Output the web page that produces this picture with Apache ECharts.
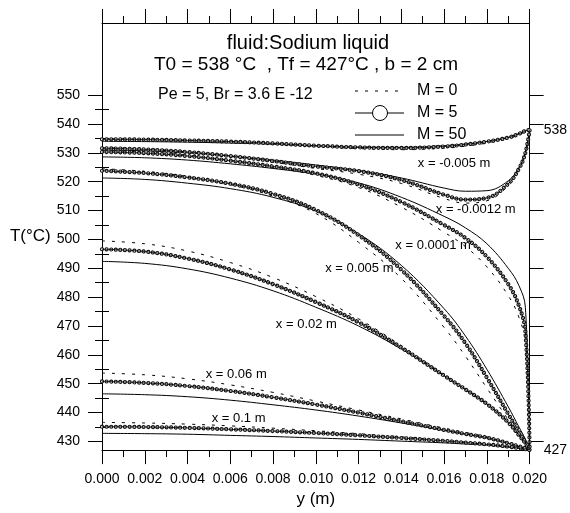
<!DOCTYPE html>
<html>
<head>
<meta charset="utf-8">
<script src="https://cdn.jsdelivr.net/npm/echarts@6/dist/echarts.min.js"></script>
<style>
  html, body { margin: 0; padding: 0; background: #fff; }
  #chart { width: 570px; height: 513px; }
</style>
</head>
<body>
<div id="chart"></div>
<script>
// transverse position y (m)
const yPos = [0, 0.002, 0.004, 0.006, 0.008, 0.010, 0.012, 0.014, 0.016, 0.017, 0.018, 0.019, 0.0195, 0.0198, 0.020];

// x = -0.005 m
const m0_a = [534.9, 534.8, 534.4, 533.9, 533.2, 532.3, 531.5, 531.1, 531.6, 532.3, 533.4, 534.9, 536.2, 537.3, 538];
const m5_a = [534.7, 534.6, 534.3, 533.9, 533.3, 532.5, 531.9, 531.7, 532.2, 532.9, 533.9, 535.3, 536.6, 537.6, 538];
const m50_a = [534.0, 533.9, 533.7, 533.4, 533.0, 532.4, 532.0, 531.9, 532.5, 533.1, 534.0, 535.4, 536.7, 537.6, 538];
// x = -0.0012 m
const m0_b = [531.8, 531.4, 530.4, 528.8, 526.8, 524.6, 522.6, 519.4, 514.2, 512.6, 513.4, 518.6, 524.0, 529.8, 538];
const m5_b = [531.6, 531.2, 530.3, 528.9, 527.2, 525.3, 523.7, 520.6, 515.5, 513.8, 514.4, 519.3, 524.5, 530.0, 538];
const m50_b = [531.0, 530.7, 530.0, 528.9, 527.5, 525.8, 523.9, 521.3, 517.8, 516.7, 516.9, 520.3, 525.0, 530.2, 538];
// x = 0.0001 m
const m0_c = [530.8, 530.3, 529.2, 527.4, 525.0, 522.2, 518.0, 511.2, 502.5, 497.5, 490.5, 480.5, 473.0, 464.0, 427];
const m5_c = [530.3, 529.9, 528.9, 527.3, 525.3, 522.9, 519.0, 513.0, 505.0, 500.5, 494.0, 484.5, 477.0, 468.0, 427];
const m50_c = [528.6, 528.3, 527.5, 526.2, 524.6, 522.6, 519.6, 514.6, 508.0, 504.0, 498.5, 490.0, 484.0, 476.5, 427];
// x = 0.005 m
const m0_d = [524.5, 523.6, 521.8, 519.0, 515.0, 509.0, 499.0, 486.5, 469.5, 459.5, 448.5, 437.5, 432.0, 429.2, 427];
const m5_d = [523.8, 523.0, 521.5, 519.3, 515.8, 510.2, 501.5, 489.5, 473.5, 464.0, 452.1, 439.5, 433.4, 429.7, 427];
const m50_d = [521.3, 520.8, 519.5, 517.6, 514.6, 509.8, 502.0, 491.0, 476.0, 466.5, 455.0, 442.0, 435.0, 430.8, 427];
// x = 0.02 m
const m0_e = [499.5, 498.5, 496.0, 492.0, 486.8, 480.2, 472.5, 463.2, 453.0, 448.0, 443.0, 436.5, 432.0, 429.3, 427];
const m5_e = [496.6, 495.8, 493.4, 489.6, 484.5, 478.3, 471.3, 462.5, 452.8, 448.0, 443.0, 436.6, 432.2, 429.4, 427];
const m50_e = [492.4, 491.7, 489.8, 486.6, 482.2, 476.5, 470.0, 462.0, 452.8, 448.0, 443.0, 436.8, 432.3, 429.5, 427];
// x = 0.06 m
const m0_f = [453.7, 453.1, 451.7, 449.6, 447.0, 444.0, 440.9, 437.8, 434.6, 433.1, 431.6, 429.6, 428.4, 427.6, 427];
const m5_f = [450.8, 450.3, 449.2, 447.5, 445.3, 442.8, 440.0, 437.0, 434.0, 432.6, 431.3, 429.4, 428.3, 427.6, 427];
const m50_f = [446.5, 446.2, 445.5, 444.3, 442.7, 440.9, 438.8, 436.4, 433.8, 432.5, 431.2, 429.3, 428.2, 427.5, 427];
// x = 0.1 m
const m0_g = [436.6, 436.4, 436.0, 435.4, 434.6, 433.7, 432.7, 431.6, 430.4, 429.8, 429.1, 428.2, 427.7, 427.3, 427];
const m5_g = [435.1, 435.0, 434.7, 434.2, 433.6, 432.9, 432.1, 431.2, 430.2, 429.6, 429.0, 428.2, 427.7, 427.3, 427];
const m50_g = [432.8, 432.7, 432.5, 432.1, 431.7, 431.2, 430.7, 430.1, 429.5, 429.1, 428.7, 428.0, 427.6, 427.3, 427];

const curveNames = ['x = -0.005 m', 'x = -0.0012 m', 'x = 0.0001 m', 'x = 0.005 m', 'x = 0.02 m', 'x = 0.06 m', 'x = 0.1 m'];
const m0Curves = [m0_a, m0_b, m0_c, m0_d, m0_e, m0_f, m0_g];
const m5Curves = [m5_a, m5_b, m5_c, m5_d, m5_e, m5_f, m5_g];
const m50Curves = [m50_a, m50_b, m50_c, m50_d, m50_e, m50_f, m50_g];

// tick labels
const majorT = [430, 440, 450, 460, 470, 480, 490, 500, 510, 520, 530, 540, 550];
const minorT = [435, 445, 455, 465, 475, 485, 495, 505, 515, 525, 535, 545];
const rightT = [427, 538];

// where each curve name sits (data coords, left edge of text)
const labelAt = [[0.01477, 526.2], [0.01561, 510.3], [0.01372, 497.8], [0.01044, 489.9], [0.00813, 470.4], [0.00485, 453.1], [0.00513, 437.9]];

const FONT = '"Liberation Sans", Arial, sans-serif';
const chart = echarts.init(document.getElementById('chart'));

function lineSeries(vals, lineStyle, z) {
  return {
    type: 'line',
    data: yPos.map((y, i) => [y, vals[i]]),
    symbol: 'none',
    smooth: 0.4,
    lineStyle: lineStyle,
    silent: true,
    z: z
  };
}

const series = [];
m0Curves.forEach(v => series.push(lineSeries(v, { color: '#000', width: 1, type: [3, 7] }, 2)));
m50Curves.forEach(v => series.push(lineSeries(v, { color: '#000', width: 1 }, 3)));
// M = 5: chain of small open circles
m5Curves.forEach(v => {
  series.push(lineSeries(v, { color: '#111', width: 4.2, type: [0.01, 4.6], cap: 'round' }, 4));
  series.push(lineSeries(v, { color: '#fff', width: 2, type: [0.01, 4.6], cap: 'round' }, 5));
  series.push(lineSeries(v, { color: '#000', width: 0.8 }, 6));
});

const axisLine = { show: true, onZero: false, lineStyle: { color: '#000', width: 1 } };
const tickStyle = { color: '#000', width: 1 };

chart.setOption({
  animation: false,
  textStyle: { fontFamily: FONT },
  grid: { left: 102, right: 35, top: 23, bottom: 56 },
  xAxis: [{
    type: 'value', position: 'bottom', min: 0, max: 0.02, interval: 0.002,
    axisLine: axisLine,
    axisTick: { length: 14, lineStyle: tickStyle },
    minorTick: { show: true, splitNumber: 2, length: 7, lineStyle: tickStyle },
    axisLabel: { formatter: v => v.toFixed(3), margin: 22, fontSize: 14, color: '#000', fontFamily: FONT },
    splitLine: { show: false },
    name: 'y (m)', nameLocation: 'middle', nameGap: 37,
    nameTextStyle: { fontSize: 17, color: '#000', fontFamily: FONT }
  }, {
    type: 'value', position: 'top', min: 0, max: 0.02, interval: 0.002,
    axisLine: axisLine,
    axisTick: { length: 14, lineStyle: tickStyle },
    minorTick: { show: true, splitNumber: 2, length: 7, lineStyle: tickStyle },
    axisLabel: { show: false },
    splitLine: { show: false }
  }],
  yAxis: [{
    type: 'value', position: 'left', min: 427, max: 575,
    axisLine: axisLine,
    axisTick: { customValues: majorT, length: 14, lineStyle: tickStyle },
    axisLabel: { customValues: majorT, margin: 22, fontSize: 14, color: '#000', fontFamily: FONT },
    splitLine: { show: false },
    name: 'T(°C)', nameLocation: 'middle', nameRotate: 0, nameGap: 49,
    nameTextStyle: { fontSize: 17, color: '#000', fontFamily: FONT }
  }, {
    type: 'value', position: 'left', min: 427, max: 575,
    axisLine: { show: false },
    axisTick: { customValues: minorT, length: 7, lineStyle: tickStyle },
    axisLabel: { show: false },
    splitLine: { show: false }
  }, {
    type: 'value', position: 'right', min: 427, max: 575,
    axisLine: axisLine,
    axisTick: { customValues: majorT, length: 14, lineStyle: tickStyle },
    axisLabel: { customValues: rightT, margin: 14, fontSize: 14, color: '#000', fontFamily: FONT },
    splitLine: { show: false }
  }, {
    type: 'value', position: 'right', min: 427, max: 575,
    axisLine: { show: false },
    axisTick: { customValues: minorT, length: 7, lineStyle: tickStyle },
    axisLabel: { show: false },
    splitLine: { show: false }
  }],
  series: series
});

// annotations: header, legend, curve names
const txt = (x, y, text, size, align) => ({
  type: 'text', x: x, y: y, silent: true,
  style: { text: text, fill: '#000', font: size + 'px ' + FONT, textAlign: align || 'left', textVerticalAlign: 'middle' }
});
const seg = (x1, y, x2, dash) => ({
  type: 'line', silent: true,
  shape: { x1: x1, y1: y, x2: x2, y2: y },
  style: { stroke: '#000', lineWidth: 1, lineDash: dash || null }
});

const elements = [
  txt(308, 43, 'fluid:Sodium liquid', 20, 'center'),
  txt(306, 65, 'T0 = 538 °C  , Tf = 427°C , b = 2 cm', 19, 'center'),
  txt(158, 95, 'Pe = 5, Br = 3.6 E -12', 16),
  seg(355, 91, 404, [3, 7]),
  seg(355, 113, 404),
  { type: 'circle', silent: true, shape: { cx: 380, cy: 113, r: 7.5 }, style: { fill: '#fff', stroke: '#000', lineWidth: 1 } },
  seg(355, 135, 404),
  txt(417, 91, 'M = 0', 16),
  txt(417, 113, 'M = 5', 16),
  txt(417, 135, 'M = 50', 16)
];
curveNames.forEach((name, i) => {
  const p = chart.convertToPixel({ xAxisIndex: 0, yAxisIndex: 0 }, labelAt[i]);
  elements.push(txt(p[0], p[1], name, 13));
});
chart.setOption({ graphic: { elements: elements } });
</script>
</body>
</html>
